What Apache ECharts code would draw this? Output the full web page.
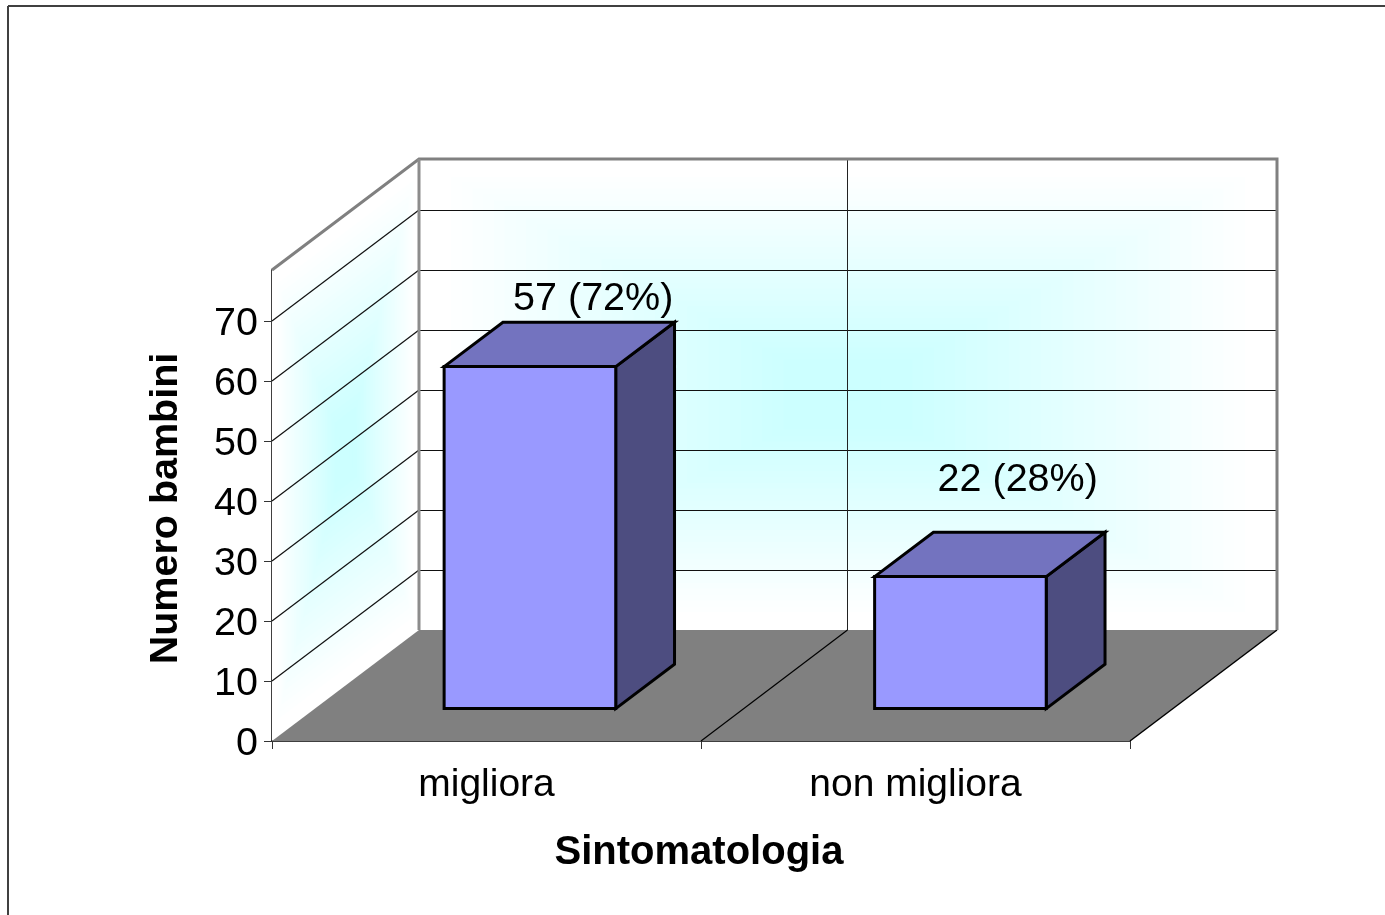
<!DOCTYPE html>
<html>
<head>
<meta charset="utf-8">
<style>html,body{margin:0;padding:0;background:#fff}#chart{width:1385px;height:915px}</style>
<script src="https://cdn.jsdelivr.net/npm/echarts@6/dist/echarts.min.js"></script>
</head>
<body>
<div id="chart"></div>
<script>
const categories = ['migliora', 'non migliora'];
const childCounts = [57, 22];
const percentages = [72, 28];
const yTicks = [0, 10, 20, 30, 40, 50, 60, 70];
const xAxisTitle = 'Sintomatologia';
const yAxisTitle = 'Numero bambini';

// Oblique projection of the 3D box
const DEPTH_X = 147, DEPTH_Y = 111;
const project = (p, d) => [p[0] + d * DEPTH_X, p[1] - d * DEPTH_Y];
const BAR_WIDTH_FRACTION = 0.4, BAR_DEPTH_FRONT = 0.292, BAR_DEPTH_BACK = 0.692;
const BAR_NUDGE = [0.5, 2];
const LABEL_NUDGE = [[4.5, -23], [-1.5, -52.5]];
const FONT = '"Liberation Sans", Arial, sans-serif';
const FONT_SIZE = 39.5;

function mix(t) { // white -> pale cyan
  const r = Math.round(255 + (204 - 255) * t);
  return 'rgb(' + r + ',255,255)';
}
function centreGradient(corners) {
  const cx = corners.reduce((s, c) => s + c[0], 0) / 4;
  const cy = corners.reduce((s, c) => s + c[1], 0) / 4;
  const out = [{ type: 'polygon', shape: { points: corners }, style: { fill: '#ffffff' }, silent: true }];
  const N = 40;
  for (let k = 1; k <= N; k++) {
    const s = 1 - k / N;
    const strength = Math.min(1, Math.max(0, (0.95 - s) / 0.8));
    out.push({
      type: 'polygon',
      shape: { points: corners.map(c => [cx + (c[0] - cx) * s, cy + (c[1] - cy) * s]) },
      style: { fill: mix(strength) }, silent: true
    });
  }
  return out;
}
function seg(a, b, color, w) {
  return { type: 'line', shape: { x1: a[0], y1: a[1], x2: b[0], y2: b[1] },
    style: { stroke: color, lineWidth: w }, silent: true };
}

function renderBox(params, api) {
  const cs = params.coordSys;
  const x0 = cs.x, x1 = cs.x + cs.width, xm = api.coord([0, 0])[0] + api.size([1, 0])[0] / 2;
  const y0 = api.coord([0, 0])[1], yTop = cs.y;
  const fl = [x0, y0], fr = [x1, y0], tl = [x0, yTop], tr = [x1, yTop];
  const kids = [];
  // walls
  kids.push(...centreGradient([project(tl, 1), project(tr, 1), project(fr, 1), project(fl, 1)]));
  kids.push(...centreGradient([tl, project(tl, 1), project(fl, 1), fl]));
  // grid lines
  yTicks.forEach(v => {
    if (v === 0) return;
    const p = [x0, api.coord([0, v])[1]];
    kids.push(seg(p, project(p, 1), '#111111', 1.2));
    const by = Math.round(project(p, 1)[1]) + 0.5;
    kids.push(seg([x0 + DEPTH_X, by], [x1 + DEPTH_X, by], '#111111', 1));
  });
  const vx = Math.floor(xm + DEPTH_X) - 0.5;
  kids.push(seg([vx, yTop - DEPTH_Y], [vx, y0 - DEPTH_Y], '#222222', 1));
  // floor
  kids.push({ type: 'polygon', shape: { points: [fl, project(fl, 1), project(fr, 1), fr] },
    style: { fill: '#808080' }, silent: true });
  kids.push(seg([xm, y0], [vx, y0 - DEPTH_Y], '#000000', 1.2));
  kids.push(seg(fr, project(fr, 1), '#000000', 1.5));
  // wall outline
  kids.push({ type: 'polyline', shape: { points: [tl, project(tl, 1), project(tr, 1), project(fr, 1)] },
    style: { stroke: '#808080', lineWidth: 3, fill: null }, silent: true });
  kids.push(seg(project(tl, 1), project(fl, 1), '#8c8c8c', 3));
  return { type: 'group', children: kids };
}

function renderBar(params, api) {
  const i = params.dataIndex;
  const base = api.coord([i, 0]);
  const topP = api.coord([i, api.value(1)]);
  const w = api.size([1, 0])[0] * BAR_WIDTH_FRACTION;
  const L = base[0] - w / 2 + BAR_NUDGE[i], R = base[0] + w / 2 + BAR_NUDGE[i];
  const P = (x, y, d) => project([x, y], d);
  const df = BAR_DEPTH_FRONT, db = BAR_DEPTH_BACK;
  const stroke = { stroke: '#000000', lineWidth: 3, lineJoin: 'miter' };
  const poly = (pts, fill) => ({ type: 'polygon', shape: { points: pts },
    style: Object.assign({ fill: fill }, stroke) });
  const labelPt = P((L + R) / 2, topP[1], db);
  return { type: 'group', children: [
    poly([P(R, base[1], df), P(R, base[1], db), P(R, topP[1], db), P(R, topP[1], df)], '#4D4D80'),
    poly([P(L, topP[1], df), P(L, topP[1], db), P(R, topP[1], db), P(R, topP[1], df)], '#7373BF'),
    poly([P(L, base[1], df), P(R, base[1], df), P(R, topP[1], df), P(L, topP[1], df)], '#9999FF'),
    { type: 'text', x: labelPt[0] + LABEL_NUDGE[i][0], y: labelPt[1] + LABEL_NUDGE[i][1],
      style: { text: childCounts[i] + ' (' + percentages[i] + '%)', fill: '#000',
        font: FONT_SIZE + 'px ' + FONT, textAlign: 'center', textVerticalAlign: 'middle' } }
  ] };
}

const chart = echarts.init(document.getElementById('chart'), null, { renderer: 'canvas' });
chart.setOption({
  animation: false,
  backgroundColor: '#ffffff',
  grid: { left: 272, top: 270, width: 858, height: 471, containLabel: false },
  xAxis: {
    type: 'category', data: categories, boundaryGap: true,
    name: xAxisTitle, nameLocation: 'middle', nameGap: 92,
    nameTextStyle: { fontFamily: FONT, fontSize: 40, fontWeight: 'bold', color: '#000', padding: [0, 4, 0, 0] },
    axisLine: { lineStyle: { color: '#000', width: 1.5 } },
    axisTick: { show: true, length: 8, lineStyle: { color: '#333', width: 1 } },
    axisLabel: { fontFamily: FONT, fontSize: 39, color: '#000', margin: 25, interval: 0 },
    splitLine: { show: false }
  },
  yAxis: {
    type: 'value', min: 0, max: 78.5, interval: 10,
    name: yAxisTitle, nameLocation: 'middle', nameGap: 86, nameRotate: 90,
    nameTextStyle: { fontFamily: FONT, fontSize: FONT_SIZE, fontWeight: 'bold', color: '#000', padding: [0, 6, 0, 0] },
    axisLine: { show: true, lineStyle: { color: '#404040', width: 2 } },
    axisTick: { show: true, length: 8, customValues: yTicks, lineStyle: { color: '#333', width: 1 } },
    axisLabel: { margin: 14, customValues: yTicks,
      formatter: v => '{t|' + v + '}',
      rich: { t: { fontFamily: FONT, fontSize: FONT_SIZE, color: '#000', padding: [6, 0, 0, 0] } } },
    splitLine: { show: false }
  },
  graphic: [
    { type: 'line', shape: { x1: 8, y1: 6, x2: 1385, y2: 6 }, style: { stroke: '#404040', lineWidth: 2 }, silent: true },
    { type: 'line', shape: { x1: 8, y1: 6, x2: 8, y2: 915 }, style: { stroke: '#404040', lineWidth: 2 }, silent: true }
  ],
  series: [
    { type: 'custom', name: 'box', coordinateSystem: 'cartesian2d', z: 1, silent: true,
      renderItem: renderBox, data: [[0, 0]] },
    { type: 'custom', name: 'Numero bambini', coordinateSystem: 'cartesian2d', z: 2, silent: true,
      renderItem: renderBar, data: categories.map((c, i) => [i, childCounts[i]]) }
  ]
});
</script>
</body>
</html>
